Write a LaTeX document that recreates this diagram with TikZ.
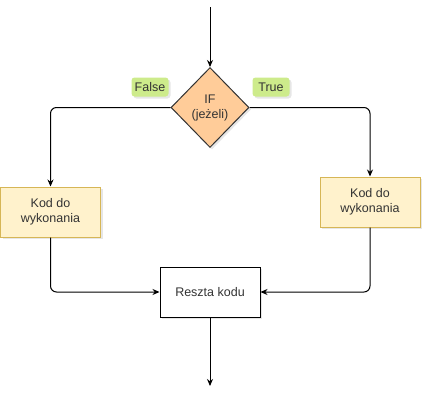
\documentclass[tikz,border=0pt]{standalone}
\usepackage{fontspec}
\setmainfont{Liberation Sans}
\usetikzlibrary{shapes.geometric,arrows.meta,shadows}

\definecolor{ifFill}{HTML}{FFCC99}
\definecolor{boxFill}{HTML}{FFF2CC}
\definecolor{boxLine}{HTML}{D6B656}
\definecolor{tagFill}{HTML}{CDEB8B}
\definecolor{txt}{HTML}{333333}

\tikzset{
    shade/.style={drop shadow={opacity=0.2,shadow xshift=2pt,shadow yshift=-2pt}},
    codebox/.style={shape=rectangle,draw=boxLine,fill=boxFill,minimum width=100pt,minimum height=50pt,align=center,text=txt,shade},
    tag/.style={shape=rectangle,rounded corners=3pt,fill=tagFill,minimum width=37pt,minimum height=19pt,inner sep=0pt,text=txt,shade},
    flow/.style={black,rounded corners=6pt,-{Stealth[length=7pt,width=6pt]}}
}

\begin{document}
\begin{tikzpicture}[x=1pt,y=-1pt,font=\fontsize{12.5}{15}\selectfont,line width=1pt]

    \useasboundingbox (0,0) rectangle (432,407);

    \node[shape=diamond,draw=black!80,fill=ifFill,minimum width=78pt,minimum height=80pt,inner sep=0pt,align=center,text=txt,shade] (IF) at (210,107.5) {IF\\(jeżeli)};
    \node[tag] (F) at (150,87) {False};
    \node[tag] (T) at (271,87) {True};
    \node[codebox] (K1) at (50.5,212) {Kod do\\wykonania};
    \node[codebox] (K2) at (370,202) {Kod do\\wykonania};
    \node[shape=rectangle,draw=black,fill=white,minimum width=100pt,minimum height=50pt,text=txt,shade] (R) at (210,292) {Reszta kodu};

    \coordinate (start) at (210,7);
    \coordinate (stop) at (210,386);

   \draw[flow]   (start) -- (IF.north);
   \draw[flow]   (IF.west) -| (K1.north);
   \draw[flow]   (IF.east) -| (K2.north);
   \draw[flow]   (K1.south) |- (R.west);
   \draw[flow]   (K2.south) |- (R.east);
   \draw[flow]   (R.south) -- (stop);
\end{tikzpicture}
\end{document}
